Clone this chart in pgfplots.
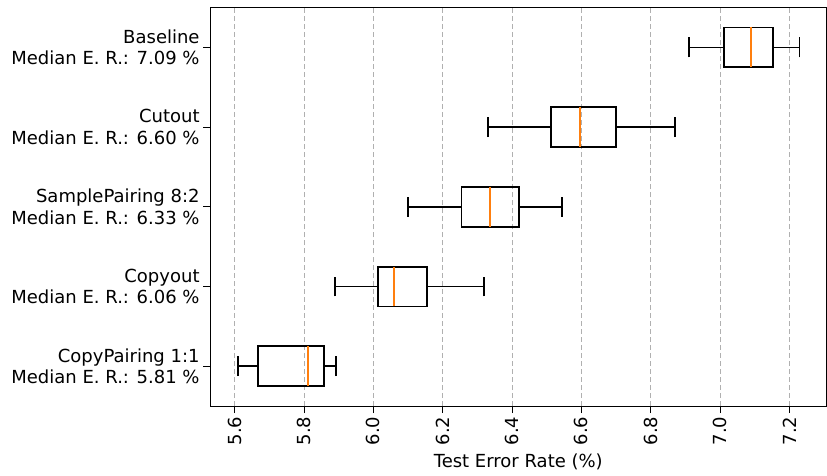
\documentclass[border=0pt]{standalone}
\usepackage{fontspec}
\setmainfont{DejaVu Sans}
\usepackage{pgfplots}
\pgfplotsset{compat=1.18}
\usepgfplotslibrary{statistics}
\definecolor{medorange}{RGB}{255,127,14}
\definecolor{gridgray}{RGB}{176,176,176}

\begin{document}
\begin{tikzpicture}
\begin{axis}[
    width=614bp, height=397bp,
    scale only axis,
    xmin=5.529, xmax=7.307,
    ymin=0.5, ymax=5.5,
    xtick={5.6,5.8,6.0,6.2,6.4,6.6,6.8,7.0,7.2},
    xticklabels={5.6,5.8,6.0,6.2,6.4,6.6,6.8,7.0,7.2},
    ytick={1,2,3,4,5},
    yticklabels={{CopyPairing 1:1\\Median E. R.: 5.81 \%},
                 {Copyout\\Median E. R.: 6.06 \%},
                 {SamplePairing 8:2\\Median E. R.: 6.33 \%},
                 {Cutout\\Median E. R.: 6.60 \%},
                 {Baseline\\Median E. R.: 7.09 \%}},
    yticklabel style={align=right, font=\fontsize{18}{21.5}\selectfont},
    xticklabel style={rotate=90, anchor=east, font=\fontsize{18}{21.5}\selectfont},
    /pgf/number format/assume math mode=true,
    xlabel={Test Error Rate (\%)},
    xlabel style={font=\fontsize{18}{21.5}\selectfont, yshift=-2bp},
    tick align=outside,
    xtick pos=bottom, ytick pos=left,
    major tick length=7bp,
    every tick/.style={black, line width=1pt},
    axis line style={line width=1.1pt},
    xmajorgrids,
    major grid style={gridgray, line width=1pt, dash pattern=on 5bp off 3bp},
    boxplot/draw direction=x,
    boxplot/box extend=0.5,
    boxplot/whisker extend=0.25,
    boxplot/every median/.style={draw=medorange, line width=2pt},
    boxplot/every box/.style={draw=black, line width=1.8pt},
    boxplot/every whisker/.style={draw=black, line width=1.8pt},
]
\addplot[black, solid, line width=1.8pt, boxplot prepared={draw position=5,
    lower whisker=6.91, lower quartile=7.011, median=7.09,
    upper quartile=7.153, upper whisker=7.229}] coordinates {};
\addplot[black, solid, line width=1.8pt, boxplot prepared={draw position=4,
    lower whisker=6.331, lower quartile=6.513, median=6.596,
    upper quartile=6.701, upper whisker=6.870}] coordinates {};
\addplot[black, solid, line width=1.8pt, boxplot prepared={draw position=3,
    lower whisker=6.099, lower quartile=6.254, median=6.335,
    upper quartile=6.421, upper whisker=6.543}] coordinates {};
\addplot[black, solid, line width=1.8pt, boxplot prepared={draw position=2,
    lower whisker=5.890, lower quartile=6.013, median=6.060,
    upper quartile=6.155, upper whisker=6.319}] coordinates {};
\addplot[black, solid, line width=1.8pt, boxplot prepared={draw position=1,
    lower whisker=5.610, lower quartile=5.667, median=5.810,
    upper quartile=5.857, upper whisker=5.892}] coordinates {};
\end{axis}
\path (current bounding box.north) ++(0,7bp);
\path (current bounding box.west) ++(-8bp,0);
\path (current bounding box.south) ++(0,-2bp);
\end{tikzpicture}
\end{document}
